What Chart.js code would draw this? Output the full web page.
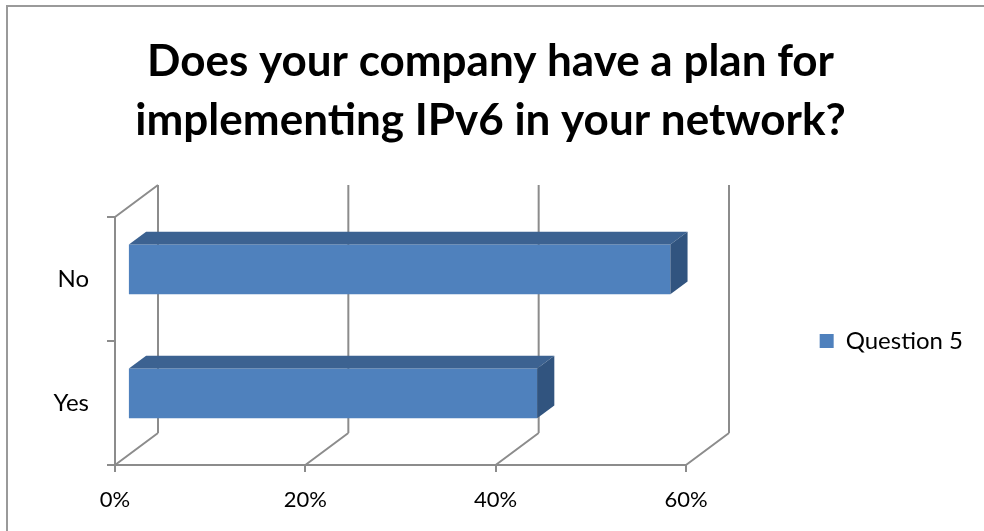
<!DOCTYPE html>
<html lang="en">
<head>
  <meta charset="UTF-8" />
  <title>IPv6 plan</title>
  <script src="https://cdn.jsdelivr.net/npm/chart.js@4"></script>
  <style>
    html, body {
      margin: 0;
      padding: 0;
      background: #ffffff;
    }
    canvas {
      display: block;
    }
  </style>
</head>
<body>

<canvas id="ipv6Plan" width="984" height="531"></canvas>

<script>
  // Survey answers (share of respondents, %)
  const categories = ['No', 'Yes'];
  const shares = [57, 43];
  const seriesName = 'Question 5';
  const titleLines = ['Does your company have a plan for', 'implementing IPv6 in your network?'];
  const axisMin = 0;
  const axisMax = 60;
  const axisStep = 20;

  const FONT = 'Lato';
  const LINE_GREY = '#8c8c8c';
  const BAR_FRONT = '#4f81bd';
  const BAR_TOP = '#3c6291';
  const BAR_SIDE = '#31547f';
  const PAD_RIGHT = 11;

  // oblique depth of the 3D box, and where the bars sit inside it
  const DEPTH = { x: 43, y: -32 };
  const BAR_FRONT_AT = 0.3;
  const BAR_DEPTH = 0.4;

  // outer frame, back wall, floor and the extruded faces of the bars
  const box3d = {
    id: 'box3d',
    afterLayout(chart) {
      // the legend hugs the right edge, away from the plot
      const lg = chart.legend;
      const shift = (chart.width - PAD_RIGHT) - lg.right;
      lg.left += shift;
      lg.right += shift;
    },
    beforeDraw(chart) {
      const ctx = chart.ctx;
      ctx.save();
      ctx.strokeStyle = '#9a9a9a';
      ctx.lineWidth = 2;
      ctx.strokeRect(7, 6, 1000, 600);
      ctx.restore();
    },
    beforeDatasetsDraw(chart) {
      const ctx = chart.ctx;
      const area = chart.chartArea;
      const xs = chart.scales.x;
      ctx.save();
      ctx.strokeStyle = LINE_GREY;
      ctx.lineWidth = 2;
      ctx.beginPath();
      // left wall, top edge
      ctx.moveTo(area.left, area.top);
      ctx.lineTo(area.left + DEPTH.x, area.top + DEPTH.y);
      xs.ticks.forEach(t => {
        const px = xs.getPixelForValue(t.value);
        // back wall gridline
        ctx.moveTo(px + DEPTH.x, area.top + DEPTH.y);
        ctx.lineTo(px + DEPTH.x, area.bottom + DEPTH.y);
        // floor gridline
        ctx.moveTo(px, area.bottom);
        ctx.lineTo(px + DEPTH.x, area.bottom + DEPTH.y);
      });
      ctx.stroke();
      ctx.restore();

      // bars are drawn part-way into the box
      ctx.save();
      ctx.translate(DEPTH.x * BAR_FRONT_AT, DEPTH.y * BAR_FRONT_AT);
    },
    afterDatasetsDraw(chart) {
      const ctx = chart.ctx;
      const dx = DEPTH.x * BAR_DEPTH;
      const dy = DEPTH.y * BAR_DEPTH;
      chart.getDatasetMeta(0).data.forEach(bar => {
        const { x, y, base, height } = bar.getProps(['x', 'y', 'base', 'height'], true);
        const top = y - height / 2;
        ctx.fillStyle = BAR_TOP;
        ctx.beginPath();
        ctx.moveTo(base, top);
        ctx.lineTo(x, top);
        ctx.lineTo(x + dx, top + dy);
        ctx.lineTo(base + dx, top + dy);
        ctx.closePath();
        ctx.fill();
        ctx.fillStyle = BAR_SIDE;
        ctx.beginPath();
        ctx.moveTo(x, top);
        ctx.lineTo(x + dx, top + dy);
        ctx.lineTo(x + dx, top + height + dy);
        ctx.lineTo(x, top + height);
        ctx.closePath();
        ctx.fill();
      });
      ctx.restore();
    }
  };

  new Chart(document.getElementById('ipv6Plan'), {
    type: 'bar',
    data: {
      labels: categories,
      datasets: [{
        label: seriesName,
        data: shares,
        backgroundColor: BAR_FRONT,
        borderWidth: 0,
        barPercentage: 0.4,
        categoryPercentage: 1,
        clip: false
      }]
    },
    options: {
      indexAxis: 'y',
      responsive: false,
      animation: false,
      layout: {
        padding: { left: 8, right: PAD_RIGHT, top: 8, bottom: 4 }
      },
      scales: {
        x: {
          min: axisMin,
          max: axisMax,
          ticks: {
            stepSize: axisStep,
            color: '#000',
            padding: 15,
            font: { family: FONT, size: 22 },
            callback: v => v + '%'
          },
          grid: {
            drawOnChartArea: false,
            drawTicks: true,
            tickLength: 7,
            color: LINE_GREY,
            lineWidth: 2
          },
          border: { color: LINE_GREY, width: 2 },
          afterFit(scale) {
            scale.height = 62;
            // keeps the plot narrow, leaving room for the box depth
            scale.paddingRight = 298;
          }
        },
        y: {
          ticks: {
            color: '#000',
            padding: 18,
            font: { family: FONT, size: 24 }
          },
          grid: {
            drawOnChartArea: false,
            drawTicks: true,
            tickLength: 8,
            offset: true,
            color: LINE_GREY,
            lineWidth: 2
          },
          border: { color: LINE_GREY, width: 2 },
          afterFit(scale) {
            scale.width = 107;
          }
        }
      },
      plugins: {
        title: {
          display: true,
          text: titleLines,
          color: '#000',
          font: { family: FONT, size: 44, weight: 'bold', lineHeight: '59px' },
          padding: { top: 24, bottom: 67 }
        },
        legend: {
          position: 'right',
          fullSize: false,
          labels: {
            boxWidth: 14,
            boxHeight: 14,
            padding: 10,
            color: '#000',
            font: { family: FONT, size: 24 }
          }
        },
        tooltip: { enabled: false }
      }
    },
    plugins: [box3d]
  });
</script>

</body>
</html>
